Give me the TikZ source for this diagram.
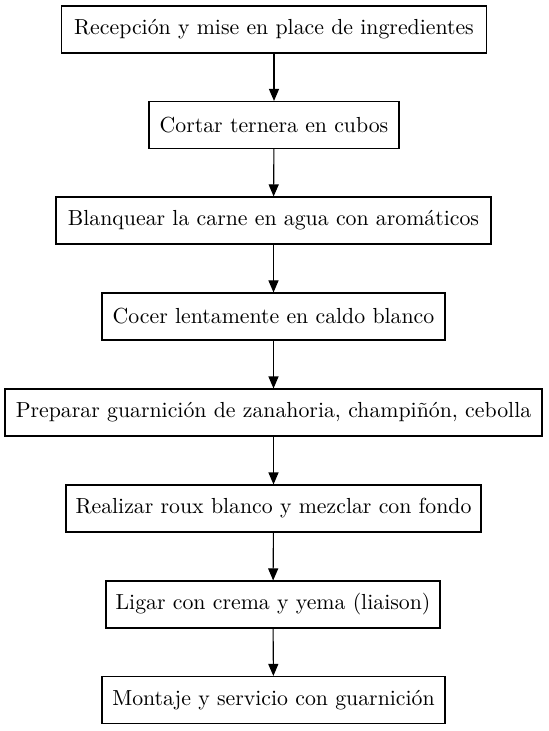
\documentclass[tikz,border=0pt]{standalone}
\usetikzlibrary{arrows.meta}
\begin{document}
\begin{tikzpicture}[x=0.5pt,y=-0.5pt,
  stepbox/.style={draw=black,line width=0.55pt,fill=white,inner sep=0pt,minimum height=23.5pt,font=\fontsize{10.9}{13}\selectfont},
  conn/.style={draw=black,line width=0.55pt,-{Triangle[length=6pt,width=5pt]}}]
\useasboundingbox (0,0) rectangle (548,731);
\node[stepbox,minimum width=212.5pt] (n1) at (274,29.5) {Recepción y mise en place de ingredientes};
\node[stepbox,minimum width=125pt] (n2) at (274,125) {Cortar ternera en cubos};
\node[stepbox,minimum width=217.5pt] (n3) at (273.5,220.5) {Blanquear la carne en agua con aromáticos};
\node[stepbox,minimum width=171.5pt] (n4) at (273.5,316.5) {Cocer lentamente en caldo blanco};
\node[stepbox,minimum width=268.5pt] (n5) at (273.5,412.5) {Preparar guarnición de zanahoria, champiñón, cebolla};
\node[stepbox,minimum width=207.5pt] (n6) at (273.5,508.5) {Realizar roux blanco y mezclar con fondo};
\node[stepbox,minimum width=167pt] (n7) at (273,604.5) {Ligar con crema y yema (liaison)};
\node[stepbox,minimum width=171.5pt] (n8) at (273.5,700) {Montaje y servicio con guarnición};
\draw[conn] (n1) -- (n2);
\draw[conn] (n2) -- (n3);
\draw[conn] (n3) -- (n4);
\draw[conn] (n4) -- (n5);
\draw[conn] (n5) -- (n6);
\draw[conn] (n6) -- (n7);
\draw[conn] (n7) -- (n8);
\end{tikzpicture}
\end{document}
